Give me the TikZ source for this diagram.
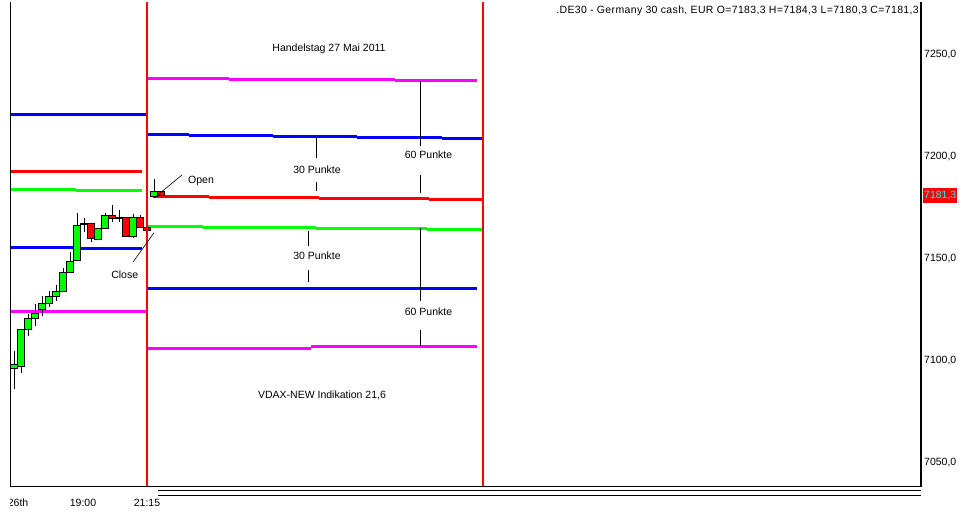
\documentclass[tikz,border=0pt]{standalone}
\usepackage{fontspec}
\setmainfont{Liberation Sans}
\newfontfamily\headfont[LetterSpace=3.4]{Liberation Sans}
\definecolor{chartmagenta}{RGB}{255,0,255}
\definecolor{chartblue}{RGB}{0,0,255}
\definecolor{chartred}{RGB}{255,0,0}
\definecolor{chartgreen}{RGB}{0,255,0}
\definecolor{chartcyan}{RGB}{0,255,255}
\begin{document}
\begin{tikzpicture}[x=1pt, y=-1pt,
    level/.style={line width=3pt},
    marker/.style={line width=1pt, black},
    pointer/.style={line width=0.6pt, black},
    candle/.style={draw=black, line width=1pt},
    lbl/.style={font=\fontsize{10.5}{12}\selectfont, inner sep=0pt}]

      \useasboundingbox (0, 0) rectangle (962, 514);
      \fill[white] (0, 0) rectangle (962, 514);

      % level lines, left part
      \foreach \c/\xa/\xb/\y in {chartblue/10/148/114, chartred/10/142/171,
          chartgreen/10/76/189.3, chartgreen/76/142/190.3,
          chartblue/10/75/247.3, chartblue/75/142/248.3, chartmagenta/10/148/311.3}
        \draw[level, \c] (\xa, \y) -- (\xb, \y);

      % level lines, trading day
      \foreach \c/\xa/\xb/\y in {chartmagenta/147/229/78.3, chartmagenta/229/395/79.3, chartmagenta/395/477/80.3,
          chartblue/147/189/134.3, chartblue/189/273/135.3, chartblue/273/357/136.3, chartblue/357/442/137.3, chartblue/442/483/138.7,
          chartred/153/209/196, chartred/209/319/197, chartred/319/429/198, chartred/429/483/199.3,
          chartgreen/147/203/226, chartgreen/203/316/227, chartgreen/316/427/228, chartgreen/427/483/229.3,
          chartblue/147/477/288.3, chartmagenta/147/311/348, chartmagenta/311/477/346.7}
        \draw[level, \c] (\xa, \y) -- (\xb, \y);

      % candles: body top, body bottom, wick top, wick bottom, colour
      \foreach \i/\bt/\bb/\wt/\wb/\col in {1/364/368/351/389/chartgreen, 2/329/366/329/373/chartgreen,
          3/318/329/314/336/chartgreen, 4/313/318/304/326/chartgreen, 5/303/309/296/316/chartgreen,
          6/296/303/291/307/chartgreen, 7/291/296/285/301/chartgreen, 8/272/291/268/291/chartgreen,
          9/261/272/252/272/chartgreen, 10/225/260/213/260/chartgreen, 11/223/224/218/232/black,
          12/223/238/223/242/chartred, 13/228/239/228/239/chartgreen, 14/215/228/213/228/chartgreen,
          15/215/218/205/222/chartred, 16/217/218/210/222/black, 17/217/236/217/236/chartred,
          18/217/236/214/238/chartgreen, 19/217/227/215/227/chartred, 20/227/230/227/233/chartred}
      {
        \pgfmathsetmacro{\xl}{10.7 + 7*(\i - 1)}
        \draw[line width=1pt] (\xl + 3.5, \wt) -- (\xl + 3.5, \wb);
        \draw[candle, fill=\col] (\xl, \bt) rectangle (\xl + 7, \bb);
      }
      \draw[line width=1pt] (154.5, 179) -- (154.5, 192);
      \draw[candle, fill=chartgreen] (150.3, 191.7) rectangle (157.3, 196.7);
      \draw[candle, fill=chartred] (157.3, 191.7) rectangle (164.3, 195);

      % frame and day borders
      \draw[line width=1.3pt] (10.5, 2) -- (10.5, 486.5) -- (921, 486.5) -- (921, 2);
      \draw[chartred, line width=2pt] (147, 2) -- (147, 486);
      \draw[chartred, line width=2pt] (483, 2) -- (483, 486);
      \draw[line width=1pt] (158, 490.5) -- (921, 490.5);
      \draw[line width=1pt] (158, 495) -- (921, 495);

      % point markers
      \draw[marker] (316, 138) -- (316, 158);
      \draw[marker] (316, 182) -- (316, 191);
      \draw[marker] (420, 81) -- (420, 146);
      \draw[marker] (420, 175) -- (420, 193);
      \draw[marker] (308, 231) -- (308, 246);
      \draw[marker] (308, 270) -- (308, 282);
      \draw[marker] (420, 228) -- (420, 301);
      \draw[marker] (420, 330) -- (420, 346);

      \node[lbl] (p30up) at (317, 170) {30 Punkte};
      \node[lbl] (p60up) at (428.5, 155) {60 Punkte};
      \node[lbl] (p30down) at (317, 256) {30 Punkte};
      \node[lbl] (p60down) at (428.5, 312) {60 Punkte};

      \node[lbl] (day) at (329, 49) {Handelstag 27 Mai 2011};
      \node[lbl] (vdax) at (322, 395) {VDAX-NEW Indikation 21,6};

      % open and close
      \node[lbl, anchor=west] (open) at (188, 181) {Open};
      \node[lbl] (close) at (124.7, 275) {Close};
      \coordinate (openbar) at (154, 198);
      \coordinate (opentip) at (182, 175);
      \coordinate (closebar) at (154, 232.7);
      \coordinate (closetip) at (133.3, 261.7);
      \draw[pointer] (openbar) -- (opentip);
      \draw[pointer] (closebar) -- (closetip);

      % header and price axis
      \node[lbl, anchor=east] (title) at (919, 11)
        {\headfont .DE30 - Germany 30 cash, EUR O=7183,3 H=7184,3 L=7180,3 C=7181,3};
      \foreach \p/\y in {{7250,0}/54.5, {7200,0}/156.7, {7150,0}/258.5, {7100,0}/360.8, {7050,0}/463}
        \node[lbl, anchor=west] at (924, \y) {\p};
      \fill[chartred] (923, 187.5) rectangle (957, 203);
      \node[lbl, anchor=west, text=chartcyan] (last) at (924, 195.3) {7181,3};

      % time axis
      \begin{scope}
        \clip (10, 490) rectangle (200, 514);
        \node[lbl, anchor=east] (day26) at (28.5, 503) {26th};
      \end{scope}
      \node[lbl] (t1900) at (83, 503) {19:00};
      \node[lbl] (t2115) at (147, 503) {21:15};

    \end{tikzpicture}
\end{document}
